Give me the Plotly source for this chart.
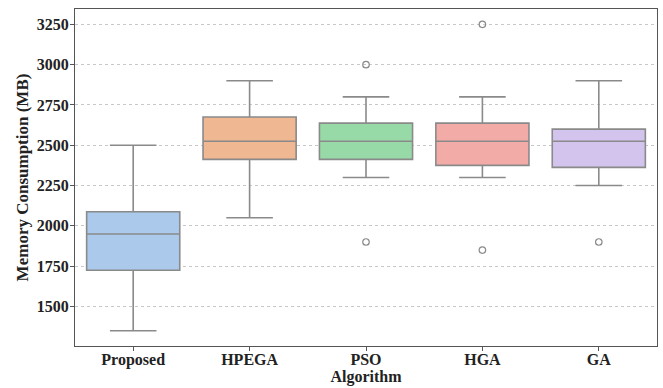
import plotly.graph_objects as go

categories = ["Proposed", "HPEGA", "PSO", "HGA", "GA"]
q1_vals = [1725, 2412.5, 2412.5, 2375, 2362.5]
median_vals = [1950, 2525, 2525, 2525, 2525]
q3_vals = [2087.5, 2675, 2637.5, 2637.5, 2600]
lower_whisker = [1350, 2050, 2300, 2300, 2250]
upper_whisker = [2500, 2900, 2800, 2800, 2900]
outlier_cats = ["PSO", "PSO", "HGA", "HGA", "GA"]
outlier_vals = [3000, 1900, 3250, 1850, 1900]
colors = ["#abc9ea", "#efb792", "#98daa7", "#f3aba8", "#d3c4ee"]
y_ticks = [1500, 1750, 2000, 2250, 2500, 2750, 3000, 3250]

font_family = "Liberation Serif"
line_gray = "#8a8a8a"
text_color = "#222222"

fig = go.Figure()
for i, cat in enumerate(categories):
    fig.add_trace(go.Box(
        x=[cat],
        q1=[q1_vals[i]], median=[median_vals[i]], q3=[q3_vals[i]],
        lowerfence=[lower_whisker[i]], upperfence=[upper_whisker[i]],
        fillcolor=colors[i],
        line=dict(color=line_gray, width=1.6),
        width=0.8,
        whiskerwidth=0.5,
        boxpoints=False,
        showlegend=False,
        hoverinfo="skip",
    ))

fig.add_trace(go.Scatter(
    x=outlier_cats, y=outlier_vals, mode="markers",
    marker=dict(symbol="circle-open", size=6.5, color=line_gray, line=dict(width=1.2, color=line_gray)),
    showlegend=False, hoverinfo="skip",
))

fig.update_layout(
    width=663, height=388,
    margin=dict(l=75, r=6, t=9, b=42),
    paper_bgcolor="white", plot_bgcolor="white",
    boxmode="overlay",
    font=dict(family=font_family, size=16, color=text_color),
)
fig.update_xaxes(
    type="category", categoryorder="array", categoryarray=categories,
    range=[-0.5, 4.5], automargin=False,
    showline=True, mirror=True, linecolor="#555555", linewidth=1.2,
    ticks="outside", ticklen=4, tickcolor="#555555",
    ticklabelstandoff=-5,
    tickfont=dict(family=font_family, size=16, color=text_color, weight="bold"),
    title=dict(text="<b>Algorithm</b>", font=dict(family=font_family, size=16, color=text_color), standoff=0),
    showgrid=False, zeroline=False,
)
fig.update_yaxes(
    range=[1255, 3345], automargin=False,
    tickvals=y_ticks, ticktext=[str(v) for v in y_ticks],
    showline=True, mirror=True, linecolor="#555555", linewidth=1.2,
    ticks="outside", ticklen=4, tickcolor="#555555",
    ticklabelstandoff=-2,
    tickfont=dict(family=font_family, size=16, color=text_color, weight="bold"),
    title=dict(text="<b>Memory Consumption (MB)</b>", font=dict(family=font_family, size=17, color=text_color), standoff=3),
    showgrid=True, gridcolor="#c8c8c8", gridwidth=0.8, griddash="dot",
    zeroline=False,
)

fig.write_html("out.html", config={"displayModeBar": False},
               post_script="document.body.style.margin='0';")
